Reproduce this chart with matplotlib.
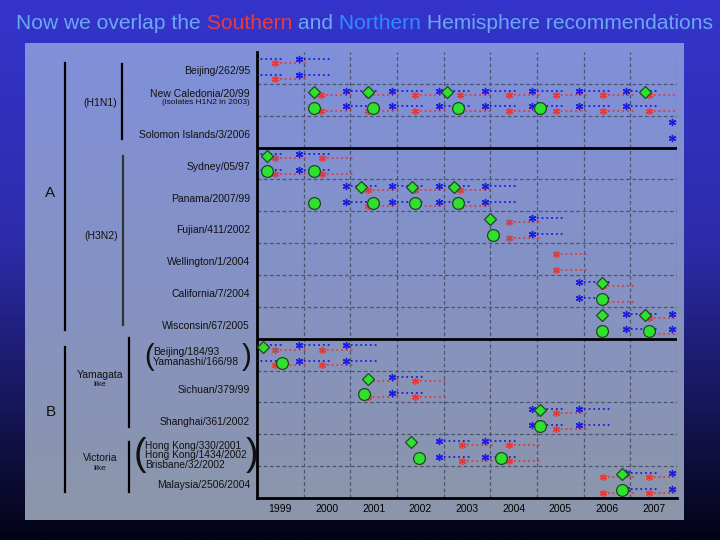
import numpy as np
import matplotlib
matplotlib.use("Agg")
import matplotlib.pyplot as plt
from matplotlib.lines import Line2D
from matplotlib.transforms import blended_transform_factory

plt.rcParams["font.family"] = ["Liberation Sans", "DejaVu Sans"]

# ---- data (decimal year, column of label Y spans [Y, Y+1]) ----
years = [1999, 2000, 2001, 2002, 2003, 2004, 2005, 2006, 2007]

strains = [
    "Beijing/262/95", "New Caledonia/20/99", "Solomon Islands/3/2006",
    "Sydney/05/97", "Panama/2007/99", "Fujian/411/2002", "Wellington/1/2004",
    "California/7/2004", "Wisconsin/67/2005",
    "Beijing/184/93\nYamanashi/166/98", "Sichuan/379/99", "Shanghai/361/2002",
    "Hong Kong/330/2001\nHong Kong/1434/2002\nBrisbane/32/2002",
    "Malaysia/2506/2004",
]

# Northern Hemisphere recommendations (blue), same in both sub-rows
north_rec = [
    [1998.88, 1999.90],
    [2000.91, 2001.89, 2002.90, 2003.89, 2004.89, 2005.90, 2006.91],
    [2007.89],
    [1998.88, 1999.90],
    [2000.91, 2001.89, 2002.90, 2003.89],
    [2004.89],
    [],
    [2005.90],
    [2006.91, 2007.89],
    [1998.88, 1999.90, 2000.91],
    [2001.89],
    [2004.89, 2005.90],
    [2002.90, 2003.89],
    [2006.91, 2007.89],
]

# Southern Hemisphere recommendations (red)
south_rec = [
    [1999.39],
    [2000.37, 2001.38, 2002.39, 2003.36, 2004.40, 2005.41, 2006.41, 2007.40],
    [],
    [1999.39, 2000.39],
    [2001.38, 2002.39, 2003.36],
    [2004.40],
    [2005.41],
    [2006.41],
    [2007.40],
    [1999.39, 2000.39],
    [2001.38, 2002.39],
    [2005.41],
    [2003.39, 2004.40],
    [2006.41, 2007.40],
]

# green markers: diamonds (upper sub-row) and circles (lower sub-row)
diamond_x = [
    [], [2000.22, 2001.38, 2003.07, 2007.31], [], [1999.21],
    [2001.23, 2002.32, 2003.22], [2003.99], [], [2006.39], [2006.39, 2007.31],
    [1999.12], [2001.38], [2005.06], [2002.30], [2006.82],
]
circle_x = [
    [], [2000.22, 2001.49, 2003.31, 2005.06], [], [1999.21, 2000.22],
    [2000.22, 2001.49, 2002.39, 2003.31], [2004.06], [], [2006.39],
    [2006.39, 2007.40], [1999.54], [2001.29], [2005.06],
    [2002.47, 2004.23], [2006.82],
]

seg_len = 0.66
BLUE = "#1c1ce0"
RED = "#e23a3a"
GREEN = "#2fe02f"

W, H = 720, 540


def fx(px):
    return px / W


def fy(py):
    return 1 - py / H


def gradient(stops, n=256):
    pos = np.array([s[0] for s in stops])
    cols = np.array([s[1] for s in stops], dtype=float) / 255
    t = np.linspace(0, 1, n)
    img = np.stack([np.interp(t, pos, cols[:, k]) for k in range(3)], axis=1)
    return img[:, None, :]


fig = plt.figure(figsize=(7.2, 5.4), dpi=100)

# slide background
ax_bg = fig.add_axes([0, 0, 1, 1], zorder=-10)
ax_bg.imshow(gradient([(0, (52, 52, 204)), (0.45, (44, 44, 170)),
                       (0.75, (22, 22, 90)), (1.0, (3, 3, 22))]),
             aspect="auto", extent=(0, 1, 0, 1))
ax_bg.set_axis_off()

# light panel
ax_panel = fig.add_axes([fx(25), fy(520), fx(684) - fx(25), fy(43) - fy(520)], zorder=-5)
ax_panel.imshow(gradient([(0, (128, 144, 218)), (0.5, (133, 146, 196)),
                          (1.0, (140, 150, 170))]),
                aspect="auto", extent=(0, 1, 0, 1))
ax_panel.set_axis_off()

# title
title_parts = [("Now we overlap the", "#6aa8f2"), (" Southern", "#e83c3c"),
               (" and", "#6aa8f2"), (" Northern", "#2f8cff"),
               (" Hemisphere recommendations", "#6aa8f2")]
prev = None
for txt, col in title_parts:
    if prev is None:
        prev = ax_bg.text(fx(16), fy(33), txt, color=col, fontsize=15.1,
                          ha="left", va="bottom", transform=fig.transFigure)
    else:
        prev = ax_bg.annotate(txt, xy=(1, 0), xycoords=prev, color=col,
                              fontsize=15.1, ha="left", va="bottom")

# main chart
ax = fig.add_axes([fx(257), fy(498), fx(677) - fx(257), fy(52) - fy(498)])
ax.set_facecolor("none")
nrows = len(strains)
ax.set_xlim(1999, 2008)
ax.set_ylim(nrows, 0)

grid_kw = dict(color="#4c5470", lw=0.9, ls=(0, (3, 2)), zorder=1)
for x in range(2000, 2009):
    ax.axvline(x, **grid_kw)
for y in range(1, nrows):
    if y in (3, 9):
        ax.axhline(y, color="black", lw=2, zorder=2)
    else:
        ax.axhline(y, **grid_kw)

for i in range(nrows):
    for sub in (0, 0.5):
        yb = i + 0.21 + sub
        yr = i + 0.34 + sub
        for x0 in north_rec[i]:
            ax.plot([x0, x0 + seg_len], [yb, yb], color=BLUE, ls=":", lw=1.3, zorder=3)
            ax.plot(x0, yb, marker=(6, 2, 0), ms=5.2, mew=1.0, color=BLUE, zorder=4)
        for x0 in south_rec[i]:
            ax.plot([x0, x0 + seg_len], [yr, yr], color=RED, ls=":", lw=1.3, zorder=3)
            ax.plot(x0, yr, marker=(6, 2, 0), ms=5.0, mew=1.0, color=RED, zorder=4)
    for x0 in diamond_x[i]:
        ax.plot(x0, i + 0.25, marker="D", ms=6.5, mfc=GREEN, mec="#1d4a1d",
                mew=0.9, zorder=5)
    for x0 in circle_x[i]:
        ax.plot(x0, i + 0.75, marker="o", ms=8.5, mfc=GREEN, mec="#1d4a1d",
                mew=0.9, zorder=5)

ax.set_xticks([y + 0.5 for y in years])
ax.set_xticklabels([str(y) for y in years], fontsize=7.5)
ax.set_yticks([])
ax.tick_params(axis="x", length=0, pad=4)
for side in ("top", "right"):
    ax.spines[side].set_visible(False)
ax.spines["left"].set_linewidth(2)
ax.spines["bottom"].set_linewidth(2)

# strain labels
lab = blended_transform_factory(fig.transFigure, ax.transData)
lab_kw = dict(transform=lab, fontsize=7.5, color="#111111", va="center")
for i, name in enumerate(strains):
    if i == 1:
        ax.text(fx(250), i + 0.33, name, ha="right", **lab_kw)
        ax.text(fx(250), i + 0.6, "(isolates H1N2 in 2003)", ha="right",
                transform=lab, fontsize=6.0, color="#111111", va="center")
    elif i == 9:
        ax.text(fx(153), i + 0.56, name, ha="left", linespacing=1.0, **lab_kw)
        ax.text(fx(149), i + 0.56, "(", ha="center", transform=lab, fontsize=21,
                va="center", color="#111111")
        ax.text(fx(247), i + 0.56, ")", ha="center", transform=lab, fontsize=21,
                va="center", color="#111111")
    elif i == 12:
        ax.text(fx(145), i + 0.66, name, ha="left", linespacing=0.95,
                transform=lab, fontsize=7.3, color="#111111", va="center")
        ax.text(fx(140), i + 0.66, "(", ha="center", transform=lab, fontsize=27,
                va="center", color="#111111")
        ax.text(fx(252), i + 0.66, ")", ha="center", transform=lab, fontsize=27,
                va="center", color="#111111")
    else:
        ax.text(fx(250), i + 0.6, name, ha="right", **lab_kw)

# group brackets and labels
brackets = [(65, 63, 330, "black"), (122, 64, 139, "black"), (123, 156, 325, "#333333"),
            (65, 347, 492, "black"), (129, 338, 427, "black"), (129, 442, 492, "black")]
for x, y0, y1, col in brackets:
    fig.add_artist(Line2D([fx(x), fx(x)], [fy(y0), fy(y1)], color=col, lw=1.6))

grp_kw = dict(ha="center", va="center", color="#111111")
fig.text(fx(50), fy(193), "A", fontsize=11, **grp_kw)
fig.text(fx(51), fy(412), "B", fontsize=11, **grp_kw)
fig.text(fx(100), fy(103), "(H1N1)", fontsize=7.5, **grp_kw)
fig.text(fx(101), fy(236), "(H3N2)", fontsize=7.5, **grp_kw)
fig.text(fx(100), fy(375), "Yamagata", fontsize=7.5, **grp_kw)
fig.text(fx(100), fy(385), "like", fontsize=6, **grp_kw)
fig.text(fx(100), fy(458), "Victoria", fontsize=7.5, **grp_kw)
fig.text(fx(100), fy(469), "like", fontsize=6, **grp_kw)

fig.savefig("out.png", dpi=100)
